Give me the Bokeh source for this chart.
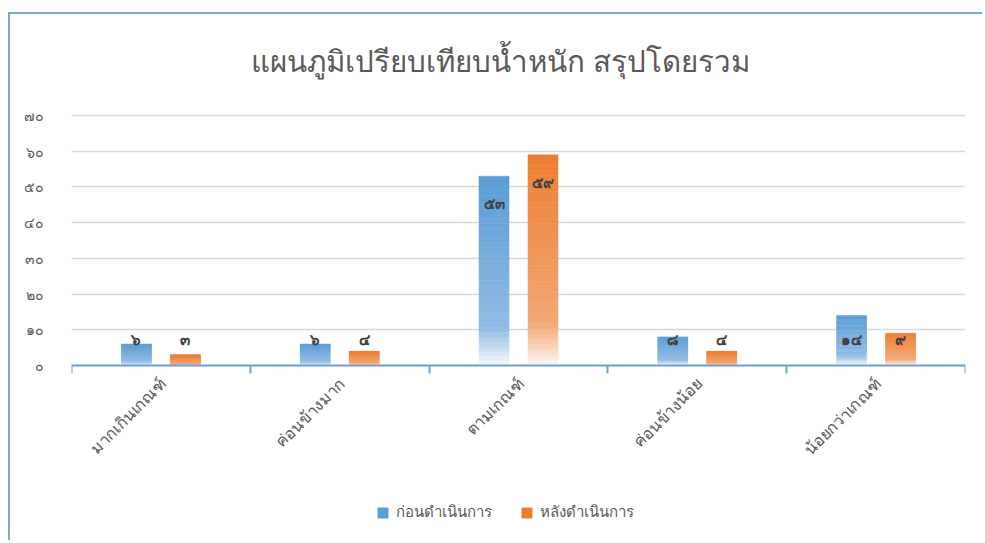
import numpy as np
from bokeh.plotting import figure
from bokeh.models import Range1d, FixedTicker, ColumnDataSource, Legend, LegendItem
from bokeh.core.properties import value
from bokeh.embed import file_html
from bokeh.resources import INLINE

# ---------------- data ----------------
title_text = "แผนภูมิเปรียบเทียบน้ำหนัก สรุปโดยรวม"
categories = ["มากเกินเกณฑ์", "ค่อนข้างมาก", "ตามเกณฑ์", "ค่อนข้างน้อย", "น้อยกว่าเกณฑ์"]
series_names = ["ก่อนดำเนินการ", "หลังดำเนินการ"]
before = [6, 6, 53, 8, 14]
after = [3, 4, 59, 4, 9]
y_ticks = [0, 10, 20, 30, 40, 50, 60, 70]

THAI = str.maketrans("0123456789", "๐๑๒๓๔๕๖๗๘๙")


def th(n):
    return str(n).translate(THAI)


FONT = "Noto Sans"
BLUE = (91, 155, 213)
ORANGE = (237, 125, 49)
AXIS_BLUE = "#6F9FD6"
N_SLICES = 40
OFFSET = 0.137
BAR_W = 0.168

# ---------------- layout (pixels) ----------------
W, H = 974, 528
B_LEFT, B_RIGHT, B_TOP, B_BOTTOM = 61, 19, 5, 12
TOP_OF_70 = 101      # canvas pixel row where the value 70 lies
PX_PER_70 = 250      # pixel height between 0 and 70
Y_MAX = 70
frame_h = H - B_TOP - B_BOTTOM
y_hi = Y_MAX + (TOP_OF_70 - B_TOP) * Y_MAX / PX_PER_70
y_lo = y_hi - frame_h * Y_MAX / PX_PER_70


def grad_color(base, t):
    # t = 0 at bar bottom, 1 at bar top
    if t >= 0.2:
        a = 0.33 * (1 - t) / 0.8
    else:
        a = 0.33 + (0.2 - t) / 0.2 * 0.62
    r, g, b = [int(round(c * (1 - a) + 255 * a)) for c in base]
    return "#%02x%02x%02x" % (r, g, b)


def slices(values, base, shift):
    xs, bots, tops, cols = [], [], [], []
    for i, v in enumerate(values):
        for k in range(N_SLICES):
            xs.append(i + 0.5 + shift)
            bots.append(v * k / N_SLICES)
            tops.append(v * (k + 1) / N_SLICES)
            cols.append(grad_color(base, (k + 0.5) / N_SLICES))
    return ColumnDataSource(dict(x=xs, bottom=bots, top=tops, color=cols))


p = figure(
    width=W, height=H, title=None,
    output_backend="svg", toolbar_location=None,
    x_range=Range1d(0, len(categories)), y_range=Range1d(y_lo, y_hi),
    min_border_left=B_LEFT, min_border_right=B_RIGHT,
    min_border_top=B_TOP, min_border_bottom=B_BOTTOM,
)
p.styles = {"margin-left": "8px", "margin-top": "12px",
            "border-left": "2px solid #7BA7DA", "border-top": "2px solid #7BA7DA"}
p.outline_line_color = None
p.background_fill_color = "white"
p.border_fill_color = "white"

# title (as text above the plotting area)
p.text(x=[len(categories) / 2], y=[Y_MAX], text=[title_text],
       x_offset=-18, y_offset=-55, text_align="center", text_baseline="middle",
       text_font=value(FONT), text_font_size="29.5px", text_color="#595959")

# bars
src_b = slices(before, BLUE, -OFFSET)
src_a = slices(after, ORANGE, OFFSET)
rb = p.vbar(x="x", bottom="bottom", top="top", width=BAR_W, source=src_b,
            fill_color="color", line_color="color", line_width=0.5)
ra = p.vbar(x="x", bottom="bottom", top="top", width=BAR_W, source=src_a,
            fill_color="color", line_color="color", line_width=0.5)

# data labels
lab_x, lab_y, lab_t = [], [], []
for shift, vals in ((-OFFSET, before), (OFFSET, after)):
    for i, v in enumerate(vals):
        lab_x.append(i + 0.5 + shift)
        lab_y.append(max(v - 7.5, 7.3))
        lab_t.append(th(v))
p.text(x=lab_x, y=lab_y, text=lab_t, text_align="center", text_baseline="middle",
       text_font=value(FONT), text_font_size="15px", text_font_style="bold",
       text_color="#404040")

# category labels (rotated, below the x axis at y = 0)
p.text(x=[i + 0.5 for i in range(len(categories))], y=[0] * len(categories),
       text=categories, angle=np.pi / 4, text_align="right", text_baseline="middle",
       y_offset=15, x_offset=2,
       text_font=value(FONT), text_font_size="16px", text_color="#595959")

# x axis fixed at y = 0, ticks at category boundaries
p.xaxis.fixed_location = 0
p.xaxis.ticker = FixedTicker(ticks=[i + 0.5 for i in range(len(categories))],
                             minor_ticks=list(range(len(categories) + 1)))
p.xaxis.major_label_overrides = {i + 0.5: "" for i in range(len(categories))}
p.xaxis.major_label_text_font_size = "0px"
p.xaxis.major_label_standoff = 0
p.xaxis.major_tick_out = 0
p.xaxis.major_tick_in = 0
p.xaxis.minor_tick_out = 8
p.xaxis.minor_tick_in = 0
p.xaxis.minor_tick_line_color = AXIS_BLUE
p.xaxis.minor_tick_line_width = 2
p.xaxis.axis_line_color = AXIS_BLUE
p.xaxis.axis_line_width = 2

p.yaxis.ticker = FixedTicker(ticks=y_ticks)
p.yaxis.major_label_overrides = {t: th(t) for t in y_ticks}
p.yaxis.axis_line_color = None
p.yaxis.major_tick_line_color = None
p.yaxis.minor_tick_line_color = None
p.yaxis.major_label_text_font = FONT
p.yaxis.major_label_text_font_size = "14px"
p.yaxis.major_label_text_color = "#595959"
p.yaxis.major_label_standoff = 22

p.xgrid.visible = False
p.ygrid.grid_line_color = "#d9d9d9"
p.ygrid.grid_line_width = 1.5

# legend (inside the extended frame, below the axis)
legend = Legend(
    items=[LegendItem(label=series_names[0], renderers=[rb], index=N_SLICES - 1),
           LegendItem(label=series_names[1], renderers=[ra], index=N_SLICES - 1)],
    orientation="horizontal", location=(305, 6),
    label_text_font=FONT, label_text_font_size="15px", label_text_color="#595959",
    glyph_width=13, glyph_height=13, spacing=28, label_standoff=7,
    border_line_color=None, background_fill_alpha=0,
    margin=0, padding=4,
)
p.add_layout(legend, "center")

open("out.html", "w").write(file_html(p, INLINE))
